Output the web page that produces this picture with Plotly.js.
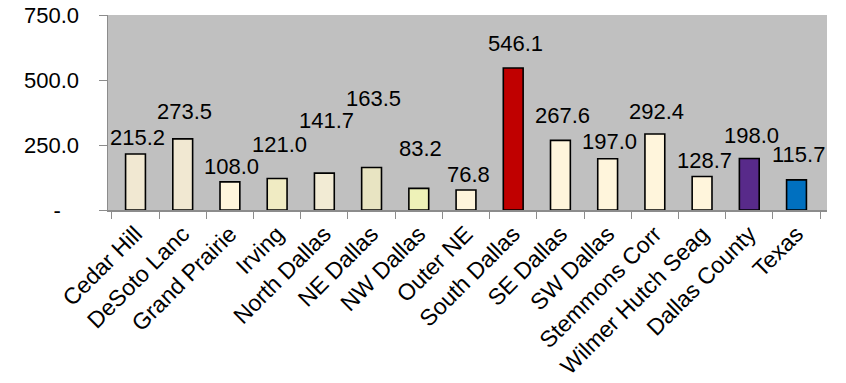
<!DOCTYPE html>
<html>
<head>
<meta charset="utf-8">
<script src="https://cdn.plot.ly/plotly-3.0.1.min.js"></script>
<style>html,body{margin:0;padding:0;background:#fff;}#chart{width:846px;height:383px;}</style>
</head>
<body>
<div id="chart"></div>
<script>
var categories = ["Cedar Hill","DeSoto Lanc","Grand Prairie","Irving","North Dallas","NE Dallas","NW Dallas","Outer NE","South Dallas","SE Dallas","SW Dallas","Stemmons Corr","Wilmer Hutch Seag","Dallas County","Texas"];
var values = [215.2, 273.5, 108.0, 121.0, 141.7, 163.5, 83.2, 76.8, 546.1, 267.6, 197.0, 292.4, 128.7, 198.0, 115.7];
var barColors = ["#F1E8D2","#F1E8D2","#FFF5DC","#F0EBC3","#F2EBD4","#E8E4C2","#EEF2B8","#FFF5DC","#C00000","#FFF5DC","#FFF5DC","#FFF5DC","#FFF5DC","#582A8A","#0070C0"];
var yTickVals = [0, 250, 500, 750];
var yTickText = ["-\u00a0\u00a0\u00a0", "250.0", "500.0", "750.0"];
// vertical offset (px) of each value label above its bar top (style only)
var labelLift = [17, 27, 15, 34, 53, 69, 40, 16, 25, 25, 17, 22, 16, 23, 25];

var font = "Liberation Sans, Arial, sans-serif";

var annotations = categories.map(function(c, i){
  return {
    x: c, y: values[i], xref: "x", yref: "y",
    text: values[i].toFixed(1),
    showarrow: false,
    xanchor: "center", yanchor: "middle",
    yshift: labelLift[i], xshift: 2,
    font: {family: font, size: 22, color: "#000"}
  };
});

var trace = {
  type: "bar",
  x: categories,
  y: values,
  marker: {color: barColors, line: {color: "#000", width: 1.6}},
  hoverinfo: "none"
};

var layout = {
  width: 846, height: 383,
  margin: {l: 108, r: 19, t: 15, b: 173},
  paper_bgcolor: "#fff",
  plot_bgcolor: "#C0C0C0",
  bargap: 0.58,
  showlegend: false,
  font: {family: font, size: 21, color: "#000"},
  xaxis: {
    type: "category",
    tickangle: -45,
    tickson: "boundaries",
    ticks: "outside", ticklen: 7, tickcolor: "#8C8C8C", tickwidth: 1,
    showline: true, linecolor: "#8C8C8C", linewidth: 1.5,
    showgrid: false, zeroline: false,
    tickfont: {family: font, size: 23, color: "#000"}
  },
  yaxis: {
    range: [0, 750],
    tickvals: yTickVals, ticktext: yTickText,
    ticks: "outside", ticklen: 8, tickcolor: "#8C8C8C", tickwidth: 1,
    ticklabelstandoff: 15,
    showline: true, linecolor: "#8C8C8C", linewidth: 1.5,
    showgrid: false, zeroline: false,
    tickfont: {family: font, size: 22, color: "#000"}
  },
  annotations: annotations
};

Plotly.newPlot("chart", [trace], layout, {displayModeBar: false, staticPlot: true});
</script>
</body>
</html>
